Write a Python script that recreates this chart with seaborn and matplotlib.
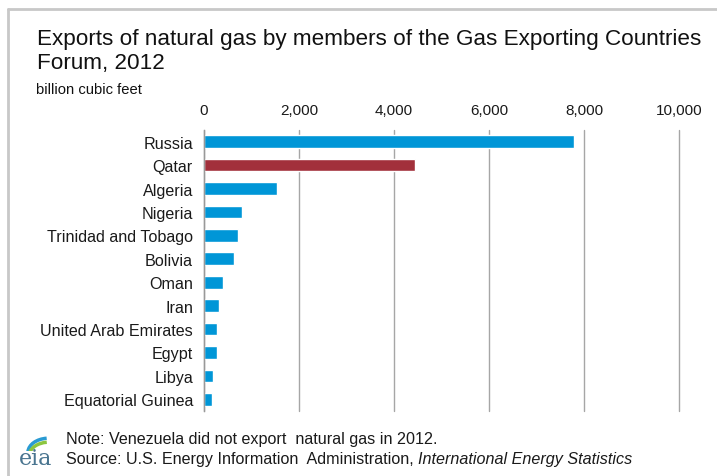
import numpy as np
import pandas as pd
import matplotlib.pyplot as plt
import seaborn as sns
from matplotlib.lines import Line2D
from matplotlib.patches import Arc

# data (billion cubic feet)
countries = ["Russia", "Qatar", "Algeria", "Nigeria", "Trinidad and Tobago",
             "Bolivia", "Oman", "Iran", "United Arab Emirates", "Egypt",
             "Libya", "Equatorial Guinea"]
exports = [7790, 4440, 1540, 790, 710, 635, 400, 325, 280, 280, 190, 160]
xticks = [0, 2000, 4000, 6000, 8000, 10000]

blue = "#0096D7"
red = "#A2303B"
colors = {c: (red if c == "Qatar" else blue) for c in countries}

df = pd.DataFrame({"country": countries, "exports": exports})

sns.set_style("white")
plt.rcParams["font.family"] = ["Liberation Sans", "DejaVu Sans"]

fig = plt.figure(figsize=(7.17, 4.77), dpi=100)
ax = fig.add_axes([0.2845, 0.1363, 0.6625, 0.5891])

sns.barplot(data=df, x="exports", y="country", hue="country", palette=colors,
            legend=False, width=0.54, orient="h", ax=ax, saturation=1)

ax.set_xlim(0, 10000)
ax.set_ylim(len(countries) - 0.5, -0.5)
ax.set_xticks(xticks)
ax.set_xticklabels([f"{t:,}" for t in xticks])
ax.xaxis.tick_top()
ax.tick_params(axis="x", length=0, pad=9, labelsize=11, colors="#1a1a1a")
ax.tick_params(axis="y", which="major", length=0, pad=8, labelsize=11.6,
               colors="#1a1a1a")
ax.set_yticks(np.arange(-0.5, len(countries), 1), minor=True)
ax.tick_params(axis="y", which="minor", length=4, width=1, color="#999999")
ax.set_xlabel("")
ax.set_ylabel("")

ax.grid(axis="x", color="#A6A6A6", lw=1)
for gl in ax.get_xgridlines():
    gl.set_clip_on(False)
ax.set_axisbelow(True)
for s in ["top", "right", "bottom"]:
    ax.spines[s].set_visible(False)
ax.spines["left"].set_color("#999999")
ax.spines["left"].set_linewidth(1)

# title block
fig.text(37 / 717, 1 - 39 / 477,
         "Exports of natural gas by members of the Gas Exporting Countries",
         fontsize=16.2, va="center", ha="left", color="#111111")
fig.text(37 / 717, 1 - 63 / 477, "Forum, 2012",
         fontsize=16.2, va="center", ha="left", color="#111111")
fig.text(36 / 717, 1 - 90 / 477, "billion cubic feet", fontsize=10.6,
         va="center", ha="left", color="#111111")

# footnotes
fig.text(66 / 717, 1 - 440 / 477, "Note: Venezuela did not export  natural gas in 2012.",
         fontsize=11.6, va="center", ha="left", color="#1a1a1a")
t = fig.text(66 / 717, 1 - 460 / 477,
             "Source: U.S. Energy Information  Administration, ",
             fontsize=11.6, va="center", ha="left", color="#1a1a1a")
fig.canvas.draw()
bb = t.get_window_extent()
fig.text(bb.x1 / fig.bbox.width, 1 - 460 / 477, "International Energy Statistics",
         fontsize=11.6, va="center", ha="left", style="italic", color="#1a1a1a")

# eia logo
fig.text(36 / 717, 1 - 459 / 477, "eia", fontsize=16, family="DejaVu Serif",
         va="center", ha="center", color="#4A7590")
lax = fig.add_axes([24 / 717, 1 - 452 / 477, 26 / 717, 16 / 477])
lax.set_xlim(0, 1)
lax.set_ylim(0, 1)
lax.axis("off")
lax.add_patch(Arc((0.95, -0.1), 1.6, 1.8, theta1=95, theta2=175, color="#2A9BD3", lw=2.5))
lax.add_patch(Arc((0.95, -0.3), 1.5, 1.7, theta1=95, theta2=170, color="#8CC63F", lw=2.5))

# frame lines
fig.add_artist(Line2D([8 / 717, 8 / 717], [0, 1 - 10 / 477], color="#C8C8C8", lw=2))
fig.add_artist(Line2D([8 / 717, 1], [1 - 10 / 477, 1 - 10 / 477], color="#C8C8C8", lw=2))

fig.savefig("out.png", dpi=100)
